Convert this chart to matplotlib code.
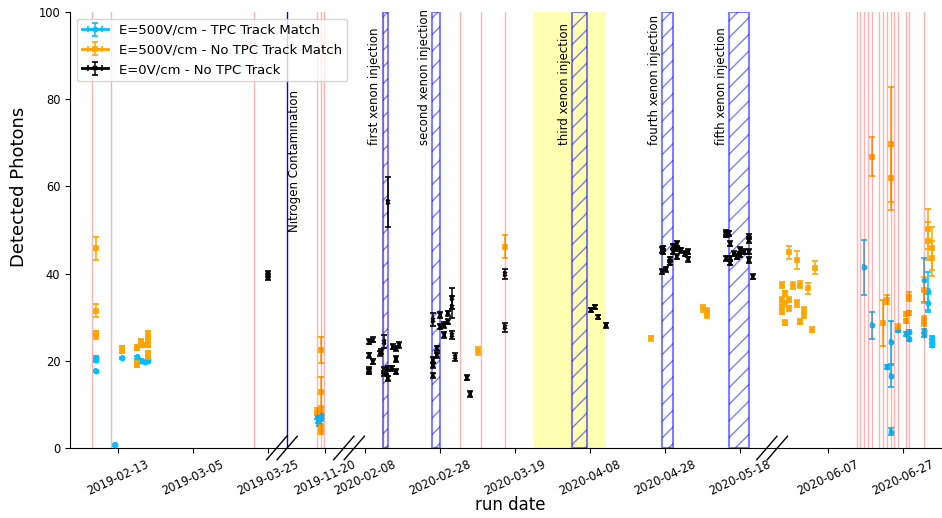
import numpy as np
import pandas as pd
import matplotlib
matplotlib.use('Agg')
import matplotlib.pyplot as plt
import matplotlib.transforms as mtransforms

# E=500V/cm runs with a matching TPC track
match_dates = ['2019-02-07 01:00', '2019-02-07 01:00', '2019-02-07 01:00', '2019-02-12 05:00',
               '2019-02-14 02:00', '2019-02-18 04:00', '2019-02-18 04:00', '2019-02-19 01:00',
               '2019-02-20 05:00', '2019-02-21 02:00', '2019-02-21 02:00',
               '2019-11-17 23:00', '2019-11-18 03:00', '2019-11-18 10:00', '2019-11-18 20:00',
               '2019-11-18 22:00',
               '2020-06-16 14:00', '2020-06-18 16:00', '2020-06-22 16:00', '2020-06-23 17:00',
               '2020-06-23 17:00', '2020-06-23 17:00', '2020-06-25 16:00', '2020-06-27 17:00',
               '2020-06-28 16:00', '2020-06-28 16:00', '2020-07-02 16:00', '2020-07-02 16:00',
               '2020-07-02 16:00', '2020-07-03 18:00', '2020-07-03 18:00', '2020-07-04 19:00',
               '2020-07-04 19:00', '2020-07-04 19:00']
match_vals = [20.6, 20.2, 17.7, 0.7,
              20.6, 20.8, 19.7, 20.0,
              19.7, 20.0, 20.3,
              7.2, 6.3, 5.6, 6.8,
              7.5,
              41.4, 28.2, 18.6, 24.2,
              16.5, 3.7, 27.1, 26.1,
              26.6, 24.9, 38.5, 26.8,
              25.9, 36.0, 33.3, 25.2,
              23.6, 24.4]
match_errs = [0.4, 0.4, 0.3, 0.2,
              0.3, 0.3, 0.3, 0.3,
              0.3, 0.3, 0.3,
              0.6, 0.6, 0.6, 0.6,
              0.6,
              6.3, 3.1, 0.5, 5.0,
              2.5, 0.8, 0.4, 0.4,
              0.4, 0.4, 5.1, 0.4,
              0.4, 4.4, 2.0, 0.5,
              0.5, 0.5]

# E=500V/cm runs without a matching TPC track
nomatch_dates = ['2019-02-07 01:00', '2019-02-07 01:00', '2019-02-07 01:00', '2019-02-07 01:00',
                 '2019-02-14 02:00', '2019-02-14 02:00', '2019-02-18 04:00', '2019-02-18 04:00',
                 '2019-02-18 04:00', '2019-02-18 04:00', '2019-02-19 01:00', '2019-02-19 01:00',
                 '2019-02-20 05:00', '2019-02-21 02:00', '2019-02-21 02:00', '2019-02-21 02:00',
                 '2019-02-21 02:00', '2019-02-21 02:00', '2019-02-21 02:00',
                 '2019-11-18 20:00', '2019-11-18 20:00', '2019-11-18 20:00', '2019-11-17 23:00',
                 '2019-11-18 20:00', '2019-11-18 20:00',
                 '2020-03-09 01:00', '2020-03-16 04:00', '2020-04-24 05:00', '2020-05-08 05:00',
                 '2020-05-09 03:00', '2020-05-09 03:00',
                 '2020-05-25 16:00', '2020-05-25 16:00', '2020-05-25 16:00', '2020-05-25 16:00',
                 '2020-05-26 13:00', '2020-05-26 13:00', '2020-05-26 13:00',
                 '2020-05-27 14:00', '2020-05-27 14:00', '2020-05-27 14:00',
                 '2020-05-28 14:00', '2020-05-29 16:00', '2020-05-29 16:00',
                 '2020-05-30 15:00', '2020-05-30 15:00', '2020-05-31 14:00', '2020-05-31 14:00',
                 '2020-06-01 16:00', '2020-06-02 16:00', '2020-06-03 15:00',
                 '2020-06-18 16:00', '2020-06-21 14:00', '2020-06-22 16:00', '2020-06-23 17:00',
                 '2020-06-23 17:00', '2020-06-25 16:00', '2020-06-27 17:00', '2020-06-27 17:00',
                 '2020-06-28 16:00', '2020-06-28 16:00', '2020-07-02 16:00', '2020-07-02 16:00',
                 '2020-07-02 16:00', '2020-07-03 18:00', '2020-07-03 18:00', '2020-07-04 19:00',
                 '2020-07-04 19:00']
nomatch_vals = [45.8, 31.5, 26.3, 25.6,
                22.9, 22.3, 23.2, 22.9,
                19.5, 19.0, 24.4, 23.6,
                23.6, 26.3, 25.5, 24.8,
                23.6, 21.7, 20.9,
                22.5, 12.9, 8.7, 8.3,
                4.9, 3.7,
                22.3, 46.2, 25.2, 32.0,
                31.4, 30.5,
                37.4, 34.0, 32.4, 31.3,
                35.5, 33.2, 28.7,
                44.9, 34.0, 32.0,
                37.2, 43.1, 33.2,
                37.4, 29.0, 31.7, 30.5,
                36.6, 27.1, 41.3,
                66.8, 28.6, 34.0, 69.7,
                61.9, 27.8, 30.7, 29.2,
                34.7, 30.9, 36.2, 29.5,
                28.7, 50.2, 47.5, 45.8,
                43.5]
nomatch_errs = [2.7, 1.5, 0.6, 0.6,
                0.5, 0.5, 0.5, 0.5,
                0.5, 0.5, 0.6, 0.5,
                0.5, 0.5, 0.5, 0.5,
                0.5, 0.5, 0.5,
                3.0, 3.4, 1.0, 0.8,
                0.6, 0.5,
                0.9, 2.6, 0.6, 0.9,
                0.6, 0.6,
                0.6, 0.6, 0.6, 0.6,
                0.6, 0.6, 0.6,
                1.5, 0.6, 0.6,
                0.8, 2.0, 0.8,
                0.8, 0.6, 0.6, 0.6,
                1.2, 0.6, 1.5,
                4.5, 5.3, 1.0, 13.2,
                7.3, 0.7, 0.5, 0.5,
                1.0, 0.5, 3.0, 0.8,
                0.8, 4.6, 4.4, 5.0,
                4.0]

# E=0V/cm runs, no TPC track
zero_dates = ['2019-03-25 03:00', '2019-03-25 03:00',
              '2020-02-09 02:00', '2020-02-09 02:00', '2020-02-09 02:00', '2020-02-09 02:00',
              '2020-02-09 23:00', '2020-02-09 23:00', '2020-02-12 00:00', '2020-02-12 08:00',
              '2020-02-13 02:00', '2020-02-13 02:00', '2020-02-13 02:00', '2020-02-13 14:00',
              '2020-02-14 01:00', '2020-02-14 01:00', '2020-02-14 01:00', '2020-02-15 03:00',
              '2020-02-15 09:00', '2020-02-16 05:00', '2020-02-16 05:00', '2020-02-16 05:00',
              '2020-02-17 02:00',
              '2020-02-26 01:00', '2020-02-26 01:00', '2020-02-26 01:00', '2020-02-26 01:00',
              '2020-02-27 03:00', '2020-02-27 03:00', '2020-02-28 00:00', '2020-02-28 00:00',
              '2020-02-29 02:00', '2020-02-29 02:00', '2020-03-01 01:00', '2020-03-01 01:00',
              '2020-03-02 03:00', '2020-03-02 03:00', '2020-03-02 03:00', '2020-03-03 00:00',
              '2020-03-06 03:00', '2020-03-07 02:00', '2020-03-16 04:00', '2020-03-16 04:00',
              '2020-04-08 05:00', '2020-04-09 04:00', '2020-04-10 05:00', '2020-04-12 05:00',
              '2020-04-27 03:00', '2020-04-27 03:00', '2020-04-27 13:00', '2020-04-27 13:00',
              '2020-04-28 06:00', '2020-04-29 04:00', '2020-04-29 04:00', '2020-04-30 05:00',
              '2020-04-30 05:00', '2020-05-01 03:00', '2020-05-01 03:00', '2020-05-01 03:00',
              '2020-05-02 05:00', '2020-05-03 04:00', '2020-05-04 05:00', '2020-05-04 05:00',
              '2020-05-14 06:00', '2020-05-14 06:00', '2020-05-14 06:00', '2020-05-14 21:00',
              '2020-05-15 08:00', '2020-05-15 08:00', '2020-05-15 08:00', '2020-05-16 05:00',
              '2020-05-17 03:00', '2020-05-18 00:00', '2020-05-18 00:00', '2020-05-19 02:00',
              '2020-05-20 05:00', '2020-05-20 05:00', '2020-05-20 05:00', '2020-05-20 05:00',
              '2020-05-21 07:00']
zero_vals = [39.9, 39.2,
             24.4, 21.3, 18.0, 17.5,
             24.8, 19.8, 21.7, 22.1,
             24.4, 17.9, 17.1, 17.5,
             56.5, 16.0, 18.3, 18.3,
             23.2, 22.9, 20.4, 17.5,
             23.6,
             29.4, 20.2, 19.0, 16.7,
             22.9, 21.3, 30.5, 27.8,
             28.2, 25.9, 30.9, 29.0,
             34.3, 32.4, 25.9, 20.9,
             16.1, 12.4, 39.9, 27.7,
             31.7, 32.3, 30.1, 28.1,
             45.4, 40.4, 45.8, 45.0,
             41.0, 43.3, 42.5, 46.3,
             45.0, 46.8, 45.8, 43.9,
             45.3, 44.6, 45.0, 43.3,
             49.4, 48.9, 43.5, 49.2,
             46.9, 43.5, 42.5, 44.6,
             43.9, 45.4, 44.3, 45.0,
             48.5, 47.7, 45.0, 43.1,
             39.3]
zero_errs = [0.7, 0.7,
             0.6, 0.6, 0.6, 0.6,
             0.6, 0.6, 0.6, 0.6,
             1.5, 0.6, 0.6, 0.6,
             5.7, 0.6, 0.6, 0.6,
             0.6, 0.6, 0.6, 0.6,
             0.6,
             1.5, 0.6, 0.6, 0.6,
             0.6, 0.6, 0.6, 0.6,
             0.6, 0.6, 0.6, 0.6,
             2.5, 2.5, 1.0, 1.0,
             0.6, 0.6, 1.2, 1.0,
             0.5, 0.5, 0.5, 0.5,
             0.6, 0.6, 0.6, 0.6,
             0.6, 0.6, 0.6, 0.6,
             0.6, 0.6, 0.6, 0.6,
             0.6, 0.6, 0.6, 0.6,
             0.6, 0.6, 0.6, 0.6,
             0.6, 0.6, 0.6, 0.6,
             0.6, 0.6, 0.6, 0.6,
             0.6, 0.6, 0.6, 0.6,
             0.5]

# detector interventions
red_lines = ['2019-02-06 01:00', '2019-02-11 03:00', '2019-03-21 06:00',
             '2019-11-17 21:00', '2019-11-18 22:00', '2019-11-19 18:00',
             '2020-02-12 18:00', '2020-03-04 04:00', '2020-03-10 00:00', '2020-03-16 04:00',
             '2020-06-14 16:00', '2020-06-15 15:00', '2020-06-16 14:00', '2020-06-17 16:00',
             '2020-06-18 16:00', '2020-06-20 16:00', '2020-06-21 18:00', '2020-06-22 18:00',
             '2020-06-23 17:00', '2020-06-24 16:00', '2020-06-25 18:00', '2020-06-27 17:00',
             '2020-06-28 16:00', '2020-07-02 16:00']
nitrogen_date = '2019-03-30 00:00'
injection_names = ['first xenon injection', 'second xenon injection', 'third xenon injection',
                   'fourth xenon injection', 'fifth xenon injection']
injection_start = ['2020-02-12 18:00', '2020-02-25 21:00', '2020-04-03 05:00',
                   '2020-04-27 05:00', '2020-05-15 02:00']
injection_end = ['2020-02-14 03:00', '2020-02-28 00:00', '2020-04-07 05:00',
                 '2020-04-30 03:00', '2020-05-20 10:00']
pause_start, pause_end = '2020-03-24 02:00', '2020-04-12 06:00'

tick_dates = ['2019-02-13', '2019-03-05', '2019-03-25', '2019-11-20', '2020-02-08', '2020-02-28',
              '2020-03-19', '2020-04-08', '2020-04-28', '2020-05-18', '2020-06-07', '2020-06-27']

# the time axis skips the long idle periods: each piece keeps 1 unit = 1 day
piece_starts = ['2019-01-01', '2019-06-01', '2020-01-01', '2020-05-23']
piece_anchors = ['2019-02-13', '2019-11-20', '2020-02-08', '2020-06-07']
piece_offsets = [0.0, 55.2, 65.9, 189.3]
break_pos = [43.7, 61.6, 174.4]


def to_axis(dates):
    d = pd.to_datetime(pd.Series(dates))
    pos = np.zeros(len(d))
    for start, anchor, offset in zip(piece_starts, piece_anchors, piece_offsets):
        sel = (d >= pd.Timestamp(start)).to_numpy()
        days = (d[sel] - pd.Timestamp(anchor)) / pd.Timedelta(days=1)
        pos[sel] = offset + days.to_numpy()
    return pos


fig = plt.figure(figsize=(9.42, 5.18), dpi=100)
ax = fig.add_axes([70 / 942, 1 - 448 / 518, 1 - 70 / 942, 436 / 518])

series = [(match_dates, match_vals, match_errs, 'deepskyblue', 'o', 'E=500V/cm - TPC Track Match'),
          (nomatch_dates, nomatch_vals, nomatch_errs, 'orange', 's', 'E=500V/cm - No TPC Track Match'),
          (zero_dates, zero_vals, zero_errs, 'black', 'x', 'E=0V/cm - No TPC Track')]

for dates, vals, errs, col, mk, lab in series:
    xs = to_axis(dates)
    for i in range(len(xs)):
        ax.errorbar(xs[i], vals[i], yerr=errs[i], xerr=0.15, fmt='-', marker=mk, color=col,
                    ms=3 if mk != 's' else 2.5, mew=1.2, lw=2, elinewidth=1.1, capsize=2,
                    label=lab if i == 0 else None, zorder=3)

for x in to_axis(red_lines):
    ax.axvline(x, color='red', alpha=0.3, lw=1, zorder=5)

ax.axvspan(*to_axis([pause_start, pause_end]), color='yellow', alpha=0.3, lw=0, zorder=0)

xs0 = to_axis(injection_start)
xs1 = to_axis(injection_end)
for name, a, b in zip(injection_names, xs0, xs1):
    ax.axvspan(a, b, facecolor='none', edgecolor='blue', hatch='//', alpha=0.5, lw=1.5, zorder=1)
    ax.text(a - 0.4, 69.5, name, rotation=90, ha='right', va='bottom', fontsize=8.5)

xn = to_axis([nitrogen_date])[0]
ax.axvline(xn, color='blue', lw=1, zorder=2)
ax.text(xn + 0.4, 49.5, 'Nitrogen Contamination', rotation=90, ha='left', va='bottom', fontsize=8.5)

# broken axis marks
trans = mtransforms.blended_transform_factory(ax.transData, ax.transAxes)
for b in break_pos:
    for dx in (-1.4, 1.4):
        ax.plot([b + dx - 2.7, b + dx + 2.7], [-0.027, 0.027], color='black', lw=1,
                transform=trans, clip_on=False, zorder=6)

ax.set_xlim(-12.8, 219.7)
ax.set_ylim(0, 100)
ax.set_yticks([0, 20, 40, 60, 80, 100])
ax.set_xticks(to_axis(tick_dates))
ax.set_xticklabels(tick_dates, rotation=25)
ax.tick_params(labelsize=8.3)
ax.spines['top'].set_visible(False)
ax.spines['right'].set_visible(False)
ax.set_xlabel('run date', fontsize=12)
ax.xaxis.set_label_coords(0.505, -0.11)
ax.set_ylabel('Detected Photons', fontsize=13)
ax.yaxis.set_label_coords(-0.048, 0.6)
ax.legend(loc='upper left', fontsize=9.5)

fig.savefig('out.png', dpi=100)
